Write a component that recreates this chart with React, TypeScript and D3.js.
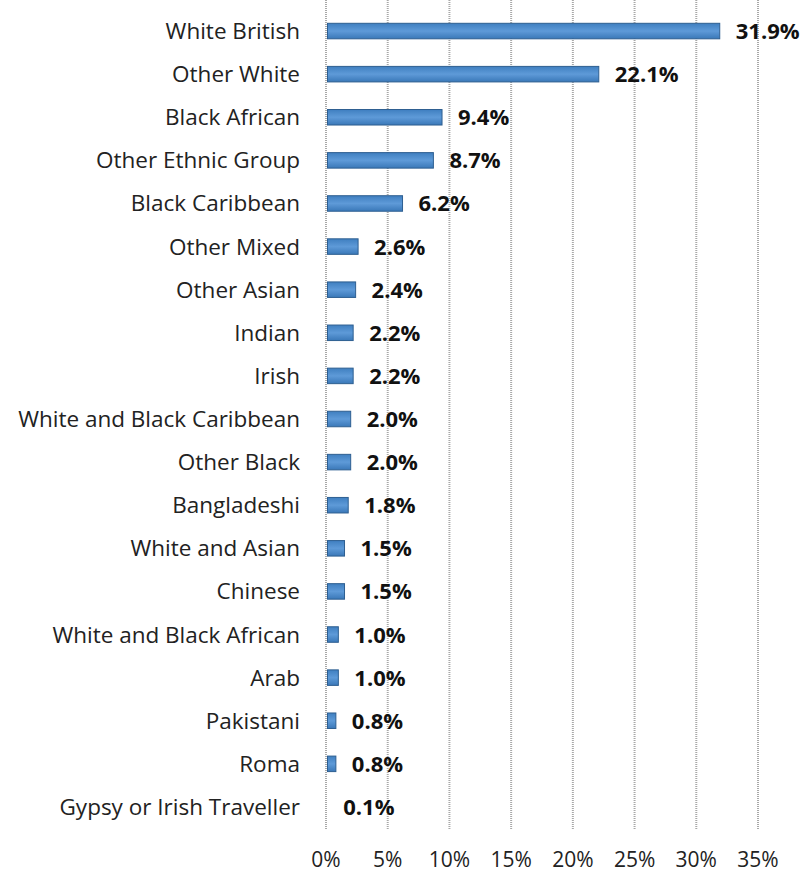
import React from "react";
import * as d3 from "d3";

const categories = [
  "White British", "Other White", "Black African", "Other Ethnic Group", "Black Caribbean",
  "Other Mixed", "Other Asian", "Indian", "Irish", "White and Black Caribbean",
  "Other Black", "Bangladeshi", "White and Asian", "Chinese", "White and Black African",
  "Arab", "Pakistani", "Roma", "Gypsy or Irish Traveller",
];
const values = [31.9, 22.1, 9.4, 8.7, 6.2, 2.6, 2.4, 2.2, 2.2, 2.0, 2.0, 1.8, 1.5, 1.5, 1.0, 1.0, 0.8, 0.8, 0.1];
const ticks = [0, 5, 10, 15, 20, 25, 30, 35];

const W = 806, H = 874;
const FONT = "'Open Sans', sans-serif";

export default function App() {
  const x = d3.scaleLinear().domain([0, 35]).range([326, 758]);
  const y = d3.scaleBand<string>().domain(categories).range([9.5, 828.5]).paddingInner(0.64).paddingOuter(0.32);
  return (
    <svg width={W} height={H} style={{ position: "absolute", left: 0, top: 0, background: "#fff" }}>
      <defs>
        <linearGradient id="bg" x1="0" y1="0" x2="0" y2="1">
          <stop offset="0" stopColor="#3f7fc0" />
          <stop offset="0.5" stopColor="#5e9ad8" />
          <stop offset="1" stopColor="#3a78b8" />
        </linearGradient>
      </defs>
      {ticks.map((t) => (
        <line key={t} x1={x(t)} x2={x(t)} y1={0} y2={829} stroke="#a8a8a8" strokeWidth={2} strokeDasharray="1 1" />
      ))}
      {categories.map((c, i) => {
        const v = values[i];
        const cy = (y(c) as number) + y.bandwidth() / 2;
        return (
          <g key={c}>
            {v >= 0.5 && (
              <rect x={x(0) + 1.5} y={y(c)} width={Math.max(0, x(v) - x(0) - 1.5)} height={y.bandwidth()}
                fill="url(#bg)" stroke="#2e5f91" strokeWidth={1} />
            )}
            <text x={300} y={cy + 8} textAnchor="end" fontFamily={FONT} fontSize={22.5} fill="#222">{c}</text>
            <text x={x(v) + 16} y={cy + 8} fontFamily={FONT} fontSize={22} fontWeight="bold" fill="#111">
              {v.toFixed(1)}%
            </text>
          </g>
        );
      })}
      {ticks.map((t) => (
        <text key={"l" + t} x={x(t)} y={867} textAnchor="middle" fontFamily={FONT} fontSize={21} fill="#222">
          {t}%
        </text>
      ))}
    </svg>
  );
}
